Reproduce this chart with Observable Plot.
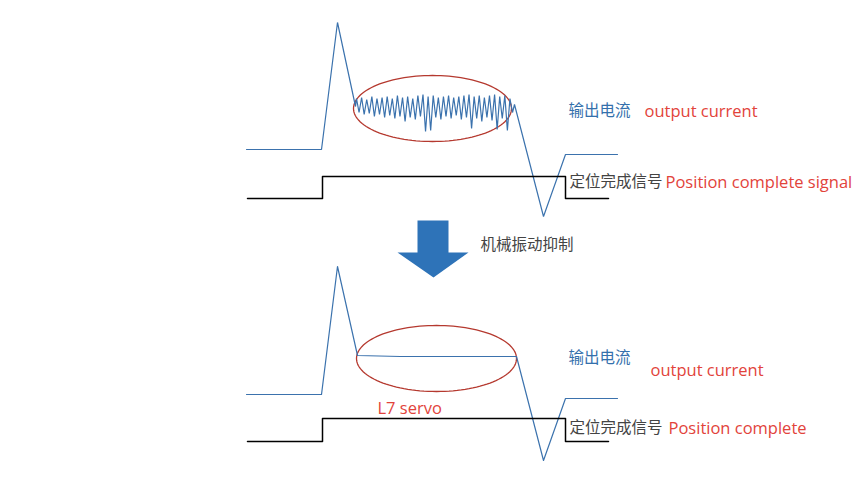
<!DOCTYPE html>
<html>
<head>
<meta charset="utf-8">
<script src="https://cdn.jsdelivr.net/npm/d3@7"></script>
<script src="https://cdn.jsdelivr.net/npm/@observablehq/plot@0.6"></script>
<style>
  html, body { margin: 0; padding: 0; background: #ffffff; }
  #chart svg { display: block; }
</style>
</head>
<body>
<div id="chart"></div>
<script>
// ---- Data (diagram units: t = horizontal time position, v = vertical level, downward) ----
// Top panel: output current before vibration suppression
const currentBeforeStart = [[246,149],[321,149],[337,22],[355,106]];
const noiseStartT = 356, noiseEndT = 512;
const noiseV = [98,112,97,114,99,113,96,116,98,114,97,117,96,115,98,118,95,116,97,121,
                96,117,98,119,95,116,94,131,96,130,95,117,97,119,96,116,95,118,97,115,
                96,119,95,117,94,128,96,118,95,121,97,117,95,120,94,129,96,118,95,130,
                98,112];
const currentBeforeEnd = [[514,104],[543,216],[565,154],[617,154]];
// Top panel: position complete signal
const signalTop = [[247,198],[322,198],[322,176],[565,176],[565,198],[608,198]];

// Bottom panel: output current after suppression
const currentAfter = [[246,394],[321,394],[337,266],[357,355],[400,356],[516,356],[543,460],[565,398],[617,398]];
// Bottom panel: position complete signal
const signalBottom = [[247,441],[322,441],[322,418],[565,418],[565,441],[608,441]];

// Highlight ellipses [cx, cy, rx, ry]
const ellipses = [[432,108,79,33],[436,358,80,33]];

// Down arrow outline
const arrowShape = [[417,220],[448,220],[448,252],[468,252],[433,277],[397,252],[417,252],[417,220]];

// Labels
const labels = [
  {t:568, v:111, text:"输出电流", kind:"zhBlue"},
  {t:644, v:111, text:"output current", kind:"en"},
  {t:569, v:182, text:"定位完成信号", kind:"zhGray"},
  {t:665, v:182, text:"Position complete signal", kind:"en"},
  {t:480, v:245, text:"机械振动抑制", kind:"zhGray"},
  {t:568, v:358, text:"输出电流", kind:"zhBlue"},
  {t:650, v:370, text:"output current", kind:"en"},
  {t:377, v:408, text:"L7 servo", kind:"en"},
  {t:569, v:428, text:"定位完成信号", kind:"zhGray"},
  {t:668, v:428, text:"Position complete", kind:"en"}
];

// ---- Build tables ----
const toPts = arr => arr.map(([t, v]) => ({t, v}));
const noisePts = noiseV.map((v, i) => ({t: noiseStartT + i * (noiseEndT - noiseStartT) / (noiseV.length - 1), v}));
const currentBefore = [...toPts(currentBeforeStart), ...noisePts, ...toPts(currentBeforeEnd)];

const ellipsePts = [];
ellipses.forEach(([cx, cy, rx, ry], k) => {
  for (let a = 0; a <= 120; a++) {
    const th = a / 120 * 2 * Math.PI;
    ellipsePts.push({k, t: cx + rx * Math.cos(th), v: cy + ry * Math.sin(th)});
  }
});

const BLUE_LINE = "#3b72ad";
const RED_TXT = "#e2433b";
const ZH = "'Noto Sans CJK SC', 'Noto Sans', sans-serif";
const EN = "'Open Sans', 'Noto Sans', sans-serif";

const chart = Plot.plot({
  width: 862,
  height: 477,
  margin: 0,
  style: {background: "#ffffff"},
  x: {domain: [0, 862], range: [0, 862], axis: null},
  y: {domain: [0, 477], range: [0, 477], axis: null},
  marks: [
    Plot.line(toPts(arrowShape), {x: "t", y: "v", fill: "#2e73b8", stroke: "none"}),
    Plot.line(ellipsePts, {x: "t", y: "v", z: "k", stroke: "#b5392f", strokeWidth: 1.3}),
    Plot.line(currentBefore, {x: "t", y: "v", stroke: BLUE_LINE, strokeWidth: 1.2, strokeLinejoin: "miter"}),
    Plot.line(toPts(currentAfter), {x: "t", y: "v", stroke: BLUE_LINE, strokeWidth: 1.2}),
    Plot.line(toPts(signalTop), {x: "t", y: "v", stroke: "#000000", strokeWidth: 1.5}),
    Plot.line(toPts(signalBottom), {x: "t", y: "v", stroke: "#000000", strokeWidth: 1.5}),
    Plot.text(labels.filter(d => d.kind === "zhBlue"), {x: "t", y: "v", text: "text", textAnchor: "start", fill: "#3470ac", fontSize: 15.5, fontFamily: ZH}),
    Plot.text(labels.filter(d => d.kind === "zhGray"), {x: "t", y: "v", text: "text", textAnchor: "start", fill: "#444444", fontSize: 15.5, fontFamily: ZH}),
    Plot.text(labels.filter(d => d.kind === "en"), {x: "t", y: "v", text: "text", textAnchor: "start", fill: RED_TXT, fontSize: 16.5, fontFamily: EN})
  ]
});
document.getElementById("chart").appendChild(chart);
</script>
</body>
</html>
